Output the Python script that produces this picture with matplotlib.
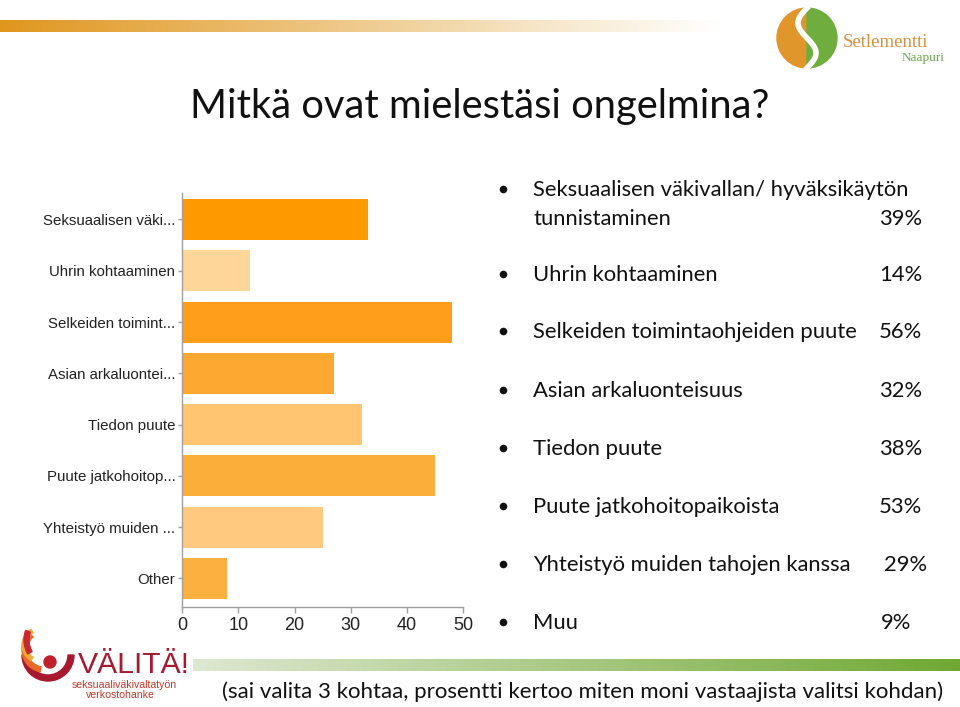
import matplotlib
matplotlib.use('Agg')
import matplotlib.pyplot as plt
import numpy as np
from matplotlib.patches import Wedge, Circle
from matplotlib.font_manager import fontManager

# ---------------- data ----------------
categories = ["Seksuaalisen väki...", "Uhrin kohtaaminen", "Selkeiden toimint...",
              "Asian arkaluontei...", "Tiedon puute", "Puute jatkohoitop...",
              "Yhteistyö muiden ...", "Other"]
counts = [33, 12, 48, 27, 32, 45, 25, 8]
bar_colors = ["#FF9900", "#FFD699", "#FE9E1B", "#FDA830",
              "#FFC570", "#FCAE3A", "#FFCA7F", "#FCB040"]
x_ticks = [0, 10, 20, 30, 40, 50]

title = "Mitkä ovat mielestäsi ongelmina?"
bullet_first = "Seksuaalisen väkivallan/ hyväksikäytön"
bullet_items = ["tunnistaminen", "Uhrin kohtaaminen", "Selkeiden toimintaohjeiden puute",
                "Asian arkaluonteisuus", "Tiedon puute", "Puute jatkohoitopaikoista",
                "Yhteistyö muiden tahojen kanssa", "Muu"]
bullet_pcts = ["39%", "14%", "56%", "32%", "38%", "53%", "29%", "9%"]
footnote = "(sai valita 3 kohtaa, prosentti kertoo miten moni vastaajista valitsi kohdan)"

# ---------------- setup ----------------
W, H = 960, 707
fig = plt.figure(figsize=(9.6, 7.07), dpi=100)
fig.patch.set_facecolor('white')
renderer = fig.canvas.get_renderer()

names = {f.name for f in fontManager.ttflist}
narrow = 'Liberation Sans Narrow' if 'Liberation Sans Narrow' in names else 'Liberation Sans'
slide_font = 'Lato'


def fx(x):
    return x / W


def fy(y):
    return 1 - y / H


def fit_size(text, family, target_w, base=20, **kw):
    t = fig.text(0, 0, text, fontsize=base, family=family, **kw)
    w = t.get_window_extent(renderer).width
    t.remove()
    return base * target_w / w


# ---------------- decoration overlay ----------------
deco = fig.add_axes([0, 0, 1, 1], zorder=0)
deco.set_xlim(0, W)
deco.set_ylim(H, 0)
deco.axis('off')
deco.patch.set_alpha(0)

# top orange gradient stripe
n = 400
t = np.linspace(0, 1, n)
c0 = np.array([0.878, 0.588, 0.118])
c1 = np.array([0.953, 0.867, 0.71])
c2 = np.array([1.0, 1.0, 1.0])
k = 0.667
cols = np.where(t[:, None] < k, c0 + (c1 - c0) * (t[:, None] / k),
                c1 + (c2 - c1) * ((t[:, None] - k) / (1 - k)))
deco.imshow(cols[None, :, :], extent=(0, 720, 32, 20), aspect='auto', zorder=1)

# bottom green gradient stripe
g0 = np.array([0.87, 0.91, 0.82])
g1 = np.array([0.44, 0.66, 0.20])
gcols = g0 + (g1 - g0) * t[:, None]
deco.imshow(gcols[None, :, :], extent=(193, 960, 671, 659), aspect='auto', zorder=1)

# Setlementti Naapuri logo
cx, cy, r = 807, 38, 30
deco.add_patch(Wedge((cx, cy), r, 90, 270, color='#E0962A', zorder=2))
deco.add_patch(Wedge((cx, cy), r, -90, 90, color='#6FAE3E', zorder=2))
ys = np.linspace(cy - r, cy + r, 100)
xs = cx - 9 * np.sin(2 * np.pi * (ys - (cy - r)) / (2 * r))
deco.plot(xs, ys, color='white', lw=4, zorder=3)
deco.text(843, 47, "Setlementti", fontsize=13.5, family='Liberation Serif',
          color='#D6913A', va='baseline', ha='left', zorder=3)
deco.text(902, 61, "Naapuri", fontsize=9.5, family='Liberation Serif',
          color='#6AA84F', va='baseline', ha='left', zorder=3)

# VÄLITÄ! logo
deco.add_patch(Wedge((48, 655), 26, 0, 180, width=6, color='#A6192E', zorder=2))
deco.add_patch(Wedge((44, 650), 22, 100, 230, width=5, color='#E8692A', zorder=2))
deco.add_patch(Wedge((40, 645), 18, 120, 240, width=4, color='#F2A93B', zorder=2))
deco.add_patch(Wedge((52, 640), 28, 150, 200, width=5, color='#C8292E', zorder=2))
deco.add_patch(Circle((50, 662), 6, color='#C0202E', zorder=3))
s3 = fit_size("VÄLITÄ!", 'Liberation Sans', 112)
deco.text(78, 673, "VÄLITÄ!", fontsize=s3, family='Liberation Sans',
          color='#A6192E', va='baseline', ha='left', zorder=3)
s4 = fit_size("seksuaaliväkivaltatyön", narrow, 104)
deco.text(124, 688, "seksuaaliväkivaltatyön", fontsize=s4, family=narrow,
          color='#C0392B', va='baseline', ha='center', zorder=3)
deco.text(120, 698, "verkostohanke", fontsize=s4, family=narrow,
          color='#C0392B', va='baseline', ha='center', zorder=3)

# ---------------- title ----------------
st = fit_size(title, slide_font, 580)
fig.text(fx(190), fy(118), title, fontsize=st, family=slide_font,
         color='#111111', va='baseline', ha='left')

# ---------------- bar chart ----------------
ax = fig.add_axes([fx(182.3), fy(607), (463 - 182.3) / W, (607 - 193) / H], zorder=2)
ypos = np.arange(len(categories))
ax.barh(ypos, counts, height=0.8, color=bar_colors)
ax.set_xlim(0, 50)
ax.set_ylim(7.56, -0.517)
ax.set_yticks(ypos)
ylab_size = fit_size(categories[0], narrow, 132)
ax.set_yticklabels(categories, fontsize=ylab_size, family=narrow, color='#222222')
ax.set_xticks(x_ticks)
ax.set_xticklabels([str(v) for v in x_ticks], fontsize=ylab_size * 1.2,
                   family=narrow, color='#222222')
for s in ['top', 'right']:
    ax.spines[s].set_visible(False)
for s in ['left', 'bottom']:
    ax.spines[s].set_color('#A0A0A0')
    ax.spines[s].set_linewidth(1.0)
ax.tick_params(axis='y', length=3, width=1, color='#A0A0A0', pad=2)
ax.tick_params(axis='x', length=4, width=1, color='#A0A0A0', pad=3)
ax.patch.set_alpha(0)

# ---------------- bullet list ----------------
sb = fit_size(bullet_first, slide_font, 378)
first_base = 196
baselines = [225, 281, 338, 397, 455, 513, 571, 629]
pct_right = [922, 922, 922, 922, 922, 922, 927, 911]
bullet_y = [first_base] + baselines[1:]
deco.scatter([503] * len(bullet_y), [b - 7.5 for b in bullet_y], s=30,
             color='#111111', zorder=3, linewidths=0)

fig.text(fx(533), fy(first_base), bullet_first, fontsize=sb, family=slide_font,
         color='#111111', va='baseline', ha='left')
for i, (item, pct) in enumerate(zip(bullet_items, bullet_pcts)):
    b = baselines[i]
    fig.text(fx(533), fy(b), item, fontsize=sb, family=slide_font,
             color='#111111', va='baseline', ha='left')
    fig.text(fx(pct_right[i]), fy(b), pct, fontsize=sb, family=slide_font,
             color='#111111', va='baseline', ha='right')

# ---------------- footnote ----------------
sf = fit_size(footnote, slide_font, 720)
fig.text(fx(222), fy(698), footnote, fontsize=sf, family=slide_font,
         color='#111111', va='baseline', ha='left')

fig.savefig('out.png', dpi=100, facecolor='white')
